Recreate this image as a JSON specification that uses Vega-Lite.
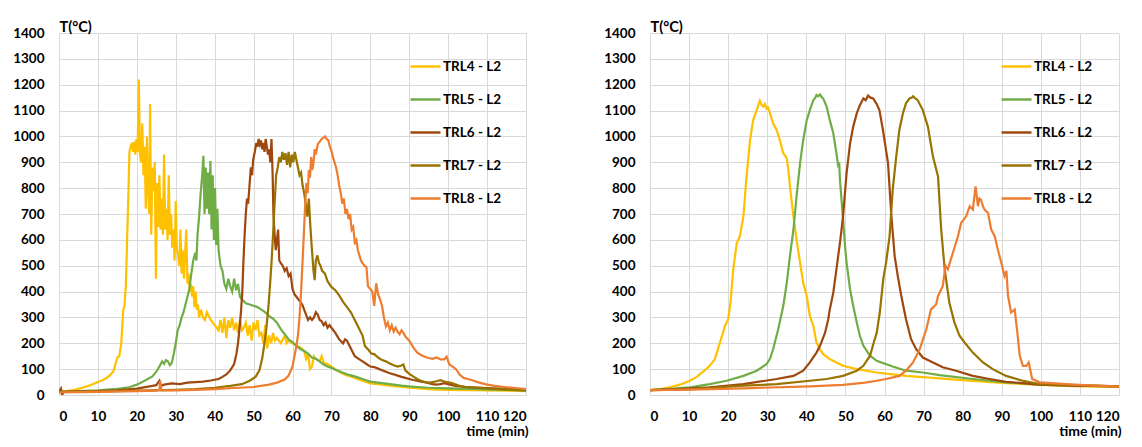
{
"$schema":"https://vega.github.io/schema/vega-lite/v6.json",
"background":"white",
"padding":{"left":12,"top":19,"right":5,"bottom":5},
"bounds":"flush",
"spacing":124,
"config":{
 "font":"Lato",
 "view":{"stroke":null},
 "axis":{"labelFont":"Lato","labelFontWeight":"bold","labelFontSize":13.5,"labelColor":"#000000","gridColor":"#D9D9D9","gridWidth":1,"ticks":false,"domain":false,"titleFont":"Lato","titleFontWeight":"bold","titleFontSize":14,"titleColor":"#000000"},
 "legend":{"orient":"none","legendX":350,"legendY":17,"symbolType":"stroke","symbolSize":900,"symbolStrokeWidth":2.5,"labelFont":"Lato","labelFontWeight":"bold","labelFontSize":13.5,"labelColor":"#000000","rowPadding":10,"labelOffset":1}
},
"resolve":{"scale":{"color":"independent"},"legend":{"color":"independent"}},
"datasets":{
"L":[
{"s":"TRL4 - L2","t":0,"T":12},{"s":"TRL4 - L2","t":2,"T":15},{"s":"TRL4 - L2","t":4,"T":20},{"s":"TRL4 - L2","t":6,"T":28},{"s":"TRL4 - L2","t":8,"T":38},{"s":"TRL4 - L2","t":10,"T":50},{"s":"TRL4 - L2","t":11,"T":56},{"s":"TRL4 - L2","t":12,"T":64},{"s":"TRL4 - L2","t":13,"T":75},{"s":"TRL4 - L2","t":14,"T":92},{"s":"TRL4 - L2","t":14.5,"T":120},{"s":"TRL4 - L2","t":15,"T":145},{"s":"TRL4 - L2","t":15.5,"T":150},{"s":"TRL4 - L2","t":16,"T":200},{"s":"TRL4 - L2","t":16.5,"T":330},{"s":"TRL4 - L2","t":16.8,"T":340},{"s":"TRL4 - L2","t":17.2,"T":430},{"s":"TRL4 - L2","t":17.5,"T":600},{"s":"TRL4 - L2","t":17.8,"T":760},{"s":"TRL4 - L2","t":18.1,"T":940},{"s":"TRL4 - L2","t":18.4,"T":960},{"s":"TRL4 - L2","t":18.7,"T":975},{"s":"TRL4 - L2","t":19,"T":940},{"s":"TRL4 - L2","t":19.3,"T":980},{"s":"TRL4 - L2","t":19.6,"T":930},{"s":"TRL4 - L2","t":19.9,"T":990},{"s":"TRL4 - L2","t":20.2,"T":940},{"s":"TRL4 - L2","t":20.5,"T":1220},{"s":"TRL4 - L2","t":20.8,"T":930},{"s":"TRL4 - L2","t":21.1,"T":900},{"s":"TRL4 - L2","t":21.4,"T":1050},{"s":"TRL4 - L2","t":21.7,"T":850},{"s":"TRL4 - L2","t":22,"T":960},{"s":"TRL4 - L2","t":22.3,"T":720},{"s":"TRL4 - L2","t":22.6,"T":1000},{"s":"TRL4 - L2","t":22.9,"T":780},{"s":"TRL4 - L2","t":23.2,"T":700},{"s":"TRL4 - L2","t":23.4,"T":1125},{"s":"TRL4 - L2","t":23.7,"T":620},{"s":"TRL4 - L2","t":24,"T":880},{"s":"TRL4 - L2","t":24.3,"T":790},{"s":"TRL4 - L2","t":24.6,"T":900},{"s":"TRL4 - L2","t":24.9,"T":450},{"s":"TRL4 - L2","t":25.2,"T":820},{"s":"TRL4 - L2","t":25.5,"T":650},{"s":"TRL4 - L2","t":25.8,"T":850},{"s":"TRL4 - L2","t":26.1,"T":640},{"s":"TRL4 - L2","t":26.4,"T":760},{"s":"TRL4 - L2","t":26.7,"T":620},{"s":"TRL4 - L2","t":27,"T":930},{"s":"TRL4 - L2","t":27.3,"T":640},{"s":"TRL4 - L2","t":27.6,"T":720},{"s":"TRL4 - L2","t":27.9,"T":600},{"s":"TRL4 - L2","t":28.2,"T":850},{"s":"TRL4 - L2","t":28.5,"T":620},{"s":"TRL4 - L2","t":28.8,"T":700},{"s":"TRL4 - L2","t":29.1,"T":570},{"s":"TRL4 - L2","t":29.4,"T":640},{"s":"TRL4 - L2","t":29.7,"T":520},{"s":"TRL4 - L2","t":30,"T":750},{"s":"TRL4 - L2","t":30.3,"T":560},{"s":"TRL4 - L2","t":30.6,"T":540},{"s":"TRL4 - L2","t":30.9,"T":500},{"s":"TRL4 - L2","t":31.2,"T":640},{"s":"TRL4 - L2","t":31.5,"T":470},{"s":"TRL4 - L2","t":31.8,"T":560},{"s":"TRL4 - L2","t":32.1,"T":450},{"s":"TRL4 - L2","t":32.7,"T":640},{"s":"TRL4 - L2","t":33,"T":430},{"s":"TRL4 - L2","t":33.3,"T":470},{"s":"TRL4 - L2","t":33.6,"T":400},{"s":"TRL4 - L2","t":33.9,"T":430},{"s":"TRL4 - L2","t":34.2,"T":380},{"s":"TRL4 - L2","t":34.5,"T":420},{"s":"TRL4 - L2","t":34.8,"T":340},{"s":"TRL4 - L2","t":35.1,"T":400},{"s":"TRL4 - L2","t":35.4,"T":330},{"s":"TRL4 - L2","t":35.7,"T":350},{"s":"TRL4 - L2","t":36,"T":300},{"s":"TRL4 - L2","t":36.5,"T":330},{"s":"TRL4 - L2","t":37,"T":300},{"s":"TRL4 - L2","t":37.5,"T":290},{"s":"TRL4 - L2","t":38,"T":320},{"s":"TRL4 - L2","t":39,"T":290},{"s":"TRL4 - L2","t":40,"T":270},{"s":"TRL4 - L2","t":41,"T":250},{"s":"TRL4 - L2","t":41.5,"T":290},{"s":"TRL4 - L2","t":42,"T":240},{"s":"TRL4 - L2","t":42.5,"T":300},{"s":"TRL4 - L2","t":43,"T":220},{"s":"TRL4 - L2","t":43.5,"T":290},{"s":"TRL4 - L2","t":44,"T":260},{"s":"TRL4 - L2","t":44.5,"T":300},{"s":"TRL4 - L2","t":45,"T":250},{"s":"TRL4 - L2","t":45.5,"T":280},{"s":"TRL4 - L2","t":46,"T":240},{"s":"TRL4 - L2","t":46.5,"T":290},{"s":"TRL4 - L2","t":47,"T":250},{"s":"TRL4 - L2","t":47.5,"T":260},{"s":"TRL4 - L2","t":48,"T":280},{"s":"TRL4 - L2","t":48.5,"T":230},{"s":"TRL4 - L2","t":49,"T":270},{"s":"TRL4 - L2","t":49.5,"T":210},{"s":"TRL4 - L2","t":50,"T":280},{"s":"TRL4 - L2","t":50.5,"T":250},{"s":"TRL4 - L2","t":51,"T":290},{"s":"TRL4 - L2","t":51.5,"T":230},{"s":"TRL4 - L2","t":52,"T":240},{"s":"TRL4 - L2","t":52.5,"T":200},{"s":"TRL4 - L2","t":53,"T":270},{"s":"TRL4 - L2","t":53.5,"T":180},{"s":"TRL4 - L2","t":54,"T":230},{"s":"TRL4 - L2","t":54.5,"T":200},{"s":"TRL4 - L2","t":55,"T":240},{"s":"TRL4 - L2","t":55.5,"T":210},{"s":"TRL4 - L2","t":56,"T":220},{"s":"TRL4 - L2","t":57,"T":200},{"s":"TRL4 - L2","t":58,"T":230},{"s":"TRL4 - L2","t":58.5,"T":200},{"s":"TRL4 - L2","t":59,"T":210},{"s":"TRL4 - L2","t":60,"T":200},{"s":"TRL4 - L2","t":61,"T":190},{"s":"TRL4 - L2","t":62,"T":185},{"s":"TRL4 - L2","t":63,"T":170},{"s":"TRL4 - L2","t":63.5,"T":140},{"s":"TRL4 - L2","t":64,"T":160},{"s":"TRL4 - L2","t":64.5,"T":100},{"s":"TRL4 - L2","t":65,"T":110},{"s":"TRL4 - L2","t":65.5,"T":150},{"s":"TRL4 - L2","t":66,"T":140},{"s":"TRL4 - L2","t":67,"T":130},{"s":"TRL4 - L2","t":67.5,"T":150},{"s":"TRL4 - L2","t":68,"T":125},{"s":"TRL4 - L2","t":69,"T":120},{"s":"TRL4 - L2","t":70,"T":110},{"s":"TRL4 - L2","t":71,"T":100},{"s":"TRL4 - L2","t":72,"T":90},{"s":"TRL4 - L2","t":73,"T":82},{"s":"TRL4 - L2","t":74,"T":76},{"s":"TRL4 - L2","t":75,"T":72},{"s":"TRL4 - L2","t":76,"T":66},{"s":"TRL4 - L2","t":78,"T":55},{"s":"TRL4 - L2","t":80,"T":45},{"s":"TRL4 - L2","t":82,"T":42},{"s":"TRL4 - L2","t":84,"T":38},{"s":"TRL4 - L2","t":86,"T":34},{"s":"TRL4 - L2","t":88,"T":32},{"s":"TRL4 - L2","t":90,"T":28},{"s":"TRL4 - L2","t":92,"T":26},{"s":"TRL4 - L2","t":94,"T":24},{"s":"TRL4 - L2","t":96,"T":22},{"s":"TRL4 - L2","t":98,"T":21},{"s":"TRL4 - L2","t":100,"T":20},{"s":"TRL4 - L2","t":105,"T":19},{"s":"TRL4 - L2","t":110,"T":18},{"s":"TRL4 - L2","t":115,"T":17},{"s":"TRL4 - L2","t":120,"T":15},
{"s":"TRL5 - L2","t":0,"T":12},{"s":"TRL5 - L2","t":5,"T":15},{"s":"TRL5 - L2","t":10,"T":18},{"s":"TRL5 - L2","t":15,"T":24},{"s":"TRL5 - L2","t":18,"T":30},{"s":"TRL5 - L2","t":20,"T":40},{"s":"TRL5 - L2","t":22,"T":55},{"s":"TRL5 - L2","t":24,"T":72},{"s":"TRL5 - L2","t":25,"T":90},{"s":"TRL5 - L2","t":25.8,"T":110},{"s":"TRL5 - L2","t":26.5,"T":130},{"s":"TRL5 - L2","t":27,"T":120},{"s":"TRL5 - L2","t":27.5,"T":135},{"s":"TRL5 - L2","t":28,"T":130},{"s":"TRL5 - L2","t":28.5,"T":115},{"s":"TRL5 - L2","t":29,"T":125},{"s":"TRL5 - L2","t":29.5,"T":160},{"s":"TRL5 - L2","t":30,"T":200},{"s":"TRL5 - L2","t":30.5,"T":250},{"s":"TRL5 - L2","t":31,"T":270},{"s":"TRL5 - L2","t":31.5,"T":300},{"s":"TRL5 - L2","t":32,"T":320},{"s":"TRL5 - L2","t":32.5,"T":350},{"s":"TRL5 - L2","t":33,"T":380},{"s":"TRL5 - L2","t":33.5,"T":410},{"s":"TRL5 - L2","t":34,"T":470},{"s":"TRL5 - L2","t":34.5,"T":520},{"s":"TRL5 - L2","t":35,"T":550},{"s":"TRL5 - L2","t":35.3,"T":520},{"s":"TRL5 - L2","t":35.6,"T":620},{"s":"TRL5 - L2","t":36,"T":690},{"s":"TRL5 - L2","t":36.4,"T":780},{"s":"TRL5 - L2","t":36.8,"T":850},{"s":"TRL5 - L2","t":37.1,"T":925},{"s":"TRL5 - L2","t":37.4,"T":700},{"s":"TRL5 - L2","t":37.7,"T":880},{"s":"TRL5 - L2","t":38,"T":720},{"s":"TRL5 - L2","t":38.3,"T":860},{"s":"TRL5 - L2","t":38.6,"T":700},{"s":"TRL5 - L2","t":38.9,"T":905},{"s":"TRL5 - L2","t":39.2,"T":640},{"s":"TRL5 - L2","t":39.5,"T":850},{"s":"TRL5 - L2","t":39.8,"T":600},{"s":"TRL5 - L2","t":40.1,"T":800},{"s":"TRL5 - L2","t":40.4,"T":580},{"s":"TRL5 - L2","t":40.7,"T":720},{"s":"TRL5 - L2","t":41,"T":560},{"s":"TRL5 - L2","t":41.5,"T":500},{"s":"TRL5 - L2","t":42,"T":480},{"s":"TRL5 - L2","t":42.5,"T":430},{"s":"TRL5 - L2","t":43,"T":410},{"s":"TRL5 - L2","t":43.5,"T":450},{"s":"TRL5 - L2","t":44,"T":420},{"s":"TRL5 - L2","t":44.5,"T":400},{"s":"TRL5 - L2","t":45,"T":450},{"s":"TRL5 - L2","t":45.5,"T":405},{"s":"TRL5 - L2","t":46,"T":430},{"s":"TRL5 - L2","t":46.5,"T":380},{"s":"TRL5 - L2","t":47,"T":370},{"s":"TRL5 - L2","t":48,"T":355},{"s":"TRL5 - L2","t":49,"T":350},{"s":"TRL5 - L2","t":50,"T":345},{"s":"TRL5 - L2","t":51,"T":340},{"s":"TRL5 - L2","t":52,"T":330},{"s":"TRL5 - L2","t":53,"T":320},{"s":"TRL5 - L2","t":54,"T":305},{"s":"TRL5 - L2","t":55,"T":295},{"s":"TRL5 - L2","t":56,"T":280},{"s":"TRL5 - L2","t":57,"T":255},{"s":"TRL5 - L2","t":58,"T":235},{"s":"TRL5 - L2","t":59,"T":215},{"s":"TRL5 - L2","t":60,"T":205},{"s":"TRL5 - L2","t":61,"T":190},{"s":"TRL5 - L2","t":62,"T":178},{"s":"TRL5 - L2","t":63,"T":170},{"s":"TRL5 - L2","t":64,"T":160},{"s":"TRL5 - L2","t":65,"T":145},{"s":"TRL5 - L2","t":66,"T":140},{"s":"TRL5 - L2","t":67,"T":130},{"s":"TRL5 - L2","t":68,"T":118},{"s":"TRL5 - L2","t":69,"T":110},{"s":"TRL5 - L2","t":70,"T":105},{"s":"TRL5 - L2","t":71,"T":98},{"s":"TRL5 - L2","t":72,"T":92},{"s":"TRL5 - L2","t":73,"T":86},{"s":"TRL5 - L2","t":74,"T":80},{"s":"TRL5 - L2","t":75,"T":76},{"s":"TRL5 - L2","t":76,"T":72},{"s":"TRL5 - L2","t":78,"T":62},{"s":"TRL5 - L2","t":80,"T":52},{"s":"TRL5 - L2","t":82,"T":48},{"s":"TRL5 - L2","t":84,"T":44},{"s":"TRL5 - L2","t":86,"T":40},{"s":"TRL5 - L2","t":88,"T":36},{"s":"TRL5 - L2","t":90,"T":33},{"s":"TRL5 - L2","t":92,"T":31},{"s":"TRL5 - L2","t":95,"T":28},{"s":"TRL5 - L2","t":100,"T":26},{"s":"TRL5 - L2","t":105,"T":24},{"s":"TRL5 - L2","t":110,"T":22},{"s":"TRL5 - L2","t":115,"T":20},{"s":"TRL5 - L2","t":120,"T":17},
{"s":"TRL6 - L2","t":0,"T":12},{"s":"TRL6 - L2","t":0.5,"T":25},{"s":"TRL6 - L2","t":0.8,"T":0},{"s":"TRL6 - L2","t":1.2,"T":12},{"s":"TRL6 - L2","t":5,"T":13},{"s":"TRL6 - L2","t":10,"T":15},{"s":"TRL6 - L2","t":15,"T":18},{"s":"TRL6 - L2","t":20,"T":25},{"s":"TRL6 - L2","t":24,"T":35},{"s":"TRL6 - L2","t":25,"T":38},{"s":"TRL6 - L2","t":25.8,"T":55},{"s":"TRL6 - L2","t":26.2,"T":35},{"s":"TRL6 - L2","t":27,"T":40},{"s":"TRL6 - L2","t":29,"T":45},{"s":"TRL6 - L2","t":31,"T":42},{"s":"TRL6 - L2","t":33,"T":48},{"s":"TRL6 - L2","t":35,"T":50},{"s":"TRL6 - L2","t":37,"T":52},{"s":"TRL6 - L2","t":39,"T":56},{"s":"TRL6 - L2","t":41,"T":62},{"s":"TRL6 - L2","t":42,"T":70},{"s":"TRL6 - L2","t":43,"T":80},{"s":"TRL6 - L2","t":44,"T":95},{"s":"TRL6 - L2","t":45,"T":120},{"s":"TRL6 - L2","t":45.6,"T":160},{"s":"TRL6 - L2","t":46,"T":200},{"s":"TRL6 - L2","t":46.4,"T":260},{"s":"TRL6 - L2","t":46.8,"T":330},{"s":"TRL6 - L2","t":47.1,"T":400},{"s":"TRL6 - L2","t":47.4,"T":520},{"s":"TRL6 - L2","t":47.7,"T":620},{"s":"TRL6 - L2","t":48,"T":700},{"s":"TRL6 - L2","t":48.3,"T":760},{"s":"TRL6 - L2","t":48.6,"T":740},{"s":"TRL6 - L2","t":49,"T":820},{"s":"TRL6 - L2","t":49.3,"T":880},{"s":"TRL6 - L2","t":49.6,"T":850},{"s":"TRL6 - L2","t":49.9,"T":910},{"s":"TRL6 - L2","t":50.3,"T":940},{"s":"TRL6 - L2","t":50.7,"T":975},{"s":"TRL6 - L2","t":51,"T":960},{"s":"TRL6 - L2","t":51.3,"T":990},{"s":"TRL6 - L2","t":51.6,"T":970},{"s":"TRL6 - L2","t":51.9,"T":985},{"s":"TRL6 - L2","t":52.2,"T":950},{"s":"TRL6 - L2","t":52.5,"T":975},{"s":"TRL6 - L2","t":52.8,"T":940},{"s":"TRL6 - L2","t":53.1,"T":990},{"s":"TRL6 - L2","t":53.4,"T":960},{"s":"TRL6 - L2","t":53.7,"T":930},{"s":"TRL6 - L2","t":54,"T":950},{"s":"TRL6 - L2","t":54.3,"T":900},{"s":"TRL6 - L2","t":54.6,"T":990},{"s":"TRL6 - L2","t":54.9,"T":850},{"s":"TRL6 - L2","t":55.1,"T":700},{"s":"TRL6 - L2","t":55.4,"T":620},{"s":"TRL6 - L2","t":55.7,"T":560},{"s":"TRL6 - L2","t":56,"T":600},{"s":"TRL6 - L2","t":56.3,"T":640},{"s":"TRL6 - L2","t":56.6,"T":520},{"s":"TRL6 - L2","t":57,"T":510},{"s":"TRL6 - L2","t":57.5,"T":500},{"s":"TRL6 - L2","t":58,"T":480},{"s":"TRL6 - L2","t":58.5,"T":490},{"s":"TRL6 - L2","t":59,"T":460},{"s":"TRL6 - L2","t":59.5,"T":470},{"s":"TRL6 - L2","t":60,"T":410},{"s":"TRL6 - L2","t":60.5,"T":390},{"s":"TRL6 - L2","t":61,"T":380},{"s":"TRL6 - L2","t":61.5,"T":370},{"s":"TRL6 - L2","t":62,"T":360},{"s":"TRL6 - L2","t":62.5,"T":350},{"s":"TRL6 - L2","t":63,"T":330},{"s":"TRL6 - L2","t":63.5,"T":310},{"s":"TRL6 - L2","t":64,"T":290},{"s":"TRL6 - L2","t":64.5,"T":300},{"s":"TRL6 - L2","t":65,"T":290},{"s":"TRL6 - L2","t":65.5,"T":300},{"s":"TRL6 - L2","t":66,"T":320},{"s":"TRL6 - L2","t":66.5,"T":310},{"s":"TRL6 - L2","t":67,"T":290},{"s":"TRL6 - L2","t":67.5,"T":285},{"s":"TRL6 - L2","t":68,"T":270},{"s":"TRL6 - L2","t":68.5,"T":280},{"s":"TRL6 - L2","t":69,"T":260},{"s":"TRL6 - L2","t":69.5,"T":270},{"s":"TRL6 - L2","t":70,"T":260},{"s":"TRL6 - L2","t":71,"T":240},{"s":"TRL6 - L2","t":72,"T":215},{"s":"TRL6 - L2","t":73,"T":200},{"s":"TRL6 - L2","t":73.5,"T":215},{"s":"TRL6 - L2","t":74,"T":210},{"s":"TRL6 - L2","t":75,"T":180},{"s":"TRL6 - L2","t":76,"T":150},{"s":"TRL6 - L2","t":77,"T":140},{"s":"TRL6 - L2","t":78,"T":130},{"s":"TRL6 - L2","t":79,"T":120},{"s":"TRL6 - L2","t":80,"T":110},{"s":"TRL6 - L2","t":81,"T":108},{"s":"TRL6 - L2","t":82,"T":102},{"s":"TRL6 - L2","t":83,"T":96},{"s":"TRL6 - L2","t":84,"T":90},{"s":"TRL6 - L2","t":85,"T":84},{"s":"TRL6 - L2","t":86,"T":80},{"s":"TRL6 - L2","t":87,"T":75},{"s":"TRL6 - L2","t":88,"T":70},{"s":"TRL6 - L2","t":89,"T":66},{"s":"TRL6 - L2","t":90,"T":62},{"s":"TRL6 - L2","t":91,"T":58},{"s":"TRL6 - L2","t":92,"T":55},{"s":"TRL6 - L2","t":93,"T":52},{"s":"TRL6 - L2","t":94,"T":50},{"s":"TRL6 - L2","t":95,"T":46},{"s":"TRL6 - L2","t":96,"T":42},{"s":"TRL6 - L2","t":97,"T":40},{"s":"TRL6 - L2","t":98,"T":42},{"s":"TRL6 - L2","t":99,"T":46},{"s":"TRL6 - L2","t":100,"T":42},{"s":"TRL6 - L2","t":101,"T":38},{"s":"TRL6 - L2","t":102,"T":35},{"s":"TRL6 - L2","t":104,"T":32},{"s":"TRL6 - L2","t":106,"T":30},{"s":"TRL6 - L2","t":110,"T":27},{"s":"TRL6 - L2","t":115,"T":24},{"s":"TRL6 - L2","t":120,"T":20},
{"s":"TRL7 - L2","t":0,"T":12},{"s":"TRL7 - L2","t":10,"T":14},{"s":"TRL7 - L2","t":20,"T":17},{"s":"TRL7 - L2","t":30,"T":20},{"s":"TRL7 - L2","t":35,"T":23},{"s":"TRL7 - L2","t":40,"T":28},{"s":"TRL7 - L2","t":44,"T":35},{"s":"TRL7 - L2","t":47,"T":42},{"s":"TRL7 - L2","t":49,"T":55},{"s":"TRL7 - L2","t":50.5,"T":70},{"s":"TRL7 - L2","t":51.5,"T":95},{"s":"TRL7 - L2","t":52.2,"T":140},{"s":"TRL7 - L2","t":52.8,"T":200},{"s":"TRL7 - L2","t":53.3,"T":260},{"s":"TRL7 - L2","t":53.8,"T":340},{"s":"TRL7 - L2","t":54.2,"T":420},{"s":"TRL7 - L2","t":54.6,"T":510},{"s":"TRL7 - L2","t":55,"T":620},{"s":"TRL7 - L2","t":55.4,"T":740},{"s":"TRL7 - L2","t":55.8,"T":850},{"s":"TRL7 - L2","t":56.2,"T":880},{"s":"TRL7 - L2","t":56.6,"T":920},{"s":"TRL7 - L2","t":57,"T":900},{"s":"TRL7 - L2","t":57.4,"T":940},{"s":"TRL7 - L2","t":57.8,"T":910},{"s":"TRL7 - L2","t":58.2,"T":935},{"s":"TRL7 - L2","t":58.6,"T":890},{"s":"TRL7 - L2","t":59,"T":940},{"s":"TRL7 - L2","t":59.4,"T":880},{"s":"TRL7 - L2","t":59.8,"T":930},{"s":"TRL7 - L2","t":60.2,"T":900},{"s":"TRL7 - L2","t":60.6,"T":940},{"s":"TRL7 - L2","t":61,"T":910},{"s":"TRL7 - L2","t":61.4,"T":880},{"s":"TRL7 - L2","t":61.8,"T":850},{"s":"TRL7 - L2","t":62.2,"T":860},{"s":"TRL7 - L2","t":62.6,"T":810},{"s":"TRL7 - L2","t":63,"T":780},{"s":"TRL7 - L2","t":63.4,"T":740},{"s":"TRL7 - L2","t":63.8,"T":690},{"s":"TRL7 - L2","t":64.2,"T":760},{"s":"TRL7 - L2","t":64.6,"T":650},{"s":"TRL7 - L2","t":65,"T":560},{"s":"TRL7 - L2","t":65.4,"T":480},{"s":"TRL7 - L2","t":65.7,"T":444},{"s":"TRL7 - L2","t":66,"T":520},{"s":"TRL7 - L2","t":66.4,"T":540},{"s":"TRL7 - L2","t":66.8,"T":510},{"s":"TRL7 - L2","t":67.2,"T":500},{"s":"TRL7 - L2","t":67.6,"T":480},{"s":"TRL7 - L2","t":68.3,"T":470},{"s":"TRL7 - L2","t":69,"T":440},{"s":"TRL7 - L2","t":70,"T":418},{"s":"TRL7 - L2","t":71,"T":405},{"s":"TRL7 - L2","t":72,"T":385},{"s":"TRL7 - L2","t":73,"T":360},{"s":"TRL7 - L2","t":74,"T":340},{"s":"TRL7 - L2","t":75,"T":320},{"s":"TRL7 - L2","t":76,"T":290},{"s":"TRL7 - L2","t":77,"T":260},{"s":"TRL7 - L2","t":78,"T":230},{"s":"TRL7 - L2","t":78.6,"T":190},{"s":"TRL7 - L2","t":79.5,"T":175},{"s":"TRL7 - L2","t":80.3,"T":160},{"s":"TRL7 - L2","t":81,"T":158},{"s":"TRL7 - L2","t":82,"T":145},{"s":"TRL7 - L2","t":83,"T":135},{"s":"TRL7 - L2","t":84,"T":130},{"s":"TRL7 - L2","t":85,"T":122},{"s":"TRL7 - L2","t":86,"T":115},{"s":"TRL7 - L2","t":87,"T":110},{"s":"TRL7 - L2","t":88,"T":114},{"s":"TRL7 - L2","t":88.5,"T":118},{"s":"TRL7 - L2","t":89,"T":95},{"s":"TRL7 - L2","t":90,"T":82},{"s":"TRL7 - L2","t":91,"T":72},{"s":"TRL7 - L2","t":92,"T":62},{"s":"TRL7 - L2","t":93,"T":55},{"s":"TRL7 - L2","t":94,"T":50},{"s":"TRL7 - L2","t":95,"T":48},{"s":"TRL7 - L2","t":96,"T":50},{"s":"TRL7 - L2","t":97,"T":53},{"s":"TRL7 - L2","t":98,"T":57},{"s":"TRL7 - L2","t":99,"T":52},{"s":"TRL7 - L2","t":100,"T":49},{"s":"TRL7 - L2","t":101,"T":46},{"s":"TRL7 - L2","t":102,"T":40},{"s":"TRL7 - L2","t":103,"T":35},{"s":"TRL7 - L2","t":105,"T":30},{"s":"TRL7 - L2","t":110,"T":26},{"s":"TRL7 - L2","t":115,"T":22},{"s":"TRL7 - L2","t":120,"T":18},
{"s":"TRL8 - L2","t":0,"T":10},{"s":"TRL8 - L2","t":10,"T":12},{"s":"TRL8 - L2","t":20,"T":15},{"s":"TRL8 - L2","t":25,"T":17},{"s":"TRL8 - L2","t":25.8,"T":20},{"s":"TRL8 - L2","t":26,"T":55},{"s":"TRL8 - L2","t":26.3,"T":18},{"s":"TRL8 - L2","t":30,"T":18},{"s":"TRL8 - L2","t":35,"T":20},{"s":"TRL8 - L2","t":40,"T":23},{"s":"TRL8 - L2","t":45,"T":27},{"s":"TRL8 - L2","t":50,"T":31},{"s":"TRL8 - L2","t":54,"T":40},{"s":"TRL8 - L2","t":56,"T":48},{"s":"TRL8 - L2","t":58,"T":60},{"s":"TRL8 - L2","t":59,"T":75},{"s":"TRL8 - L2","t":60,"T":110},{"s":"TRL8 - L2","t":60.5,"T":150},{"s":"TRL8 - L2","t":61,"T":190},{"s":"TRL8 - L2","t":61.4,"T":230},{"s":"TRL8 - L2","t":61.8,"T":300},{"s":"TRL8 - L2","t":62.2,"T":400},{"s":"TRL8 - L2","t":62.6,"T":520},{"s":"TRL8 - L2","t":63,"T":650},{"s":"TRL8 - L2","t":63.3,"T":750},{"s":"TRL8 - L2","t":63.6,"T":820},{"s":"TRL8 - L2","t":63.9,"T":780},{"s":"TRL8 - L2","t":64.2,"T":870},{"s":"TRL8 - L2","t":64.5,"T":840},{"s":"TRL8 - L2","t":64.8,"T":920},{"s":"TRL8 - L2","t":65.1,"T":870},{"s":"TRL8 - L2","t":65.4,"T":900},{"s":"TRL8 - L2","t":65.7,"T":950},{"s":"TRL8 - L2","t":66,"T":930},{"s":"TRL8 - L2","t":66.5,"T":970},{"s":"TRL8 - L2","t":67,"T":980},{"s":"TRL8 - L2","t":67.5,"T":990},{"s":"TRL8 - L2","t":68,"T":995},{"s":"TRL8 - L2","t":68.4,"T":1000},{"s":"TRL8 - L2","t":68.8,"T":990},{"s":"TRL8 - L2","t":69.2,"T":985},{"s":"TRL8 - L2","t":69.6,"T":960},{"s":"TRL8 - L2","t":70,"T":945},{"s":"TRL8 - L2","t":70.4,"T":920},{"s":"TRL8 - L2","t":70.8,"T":900},{"s":"TRL8 - L2","t":71.2,"T":880},{"s":"TRL8 - L2","t":71.6,"T":850},{"s":"TRL8 - L2","t":72,"T":810},{"s":"TRL8 - L2","t":72.4,"T":780},{"s":"TRL8 - L2","t":72.8,"T":740},{"s":"TRL8 - L2","t":73.2,"T":760},{"s":"TRL8 - L2","t":73.6,"T":700},{"s":"TRL8 - L2","t":74,"T":720},{"s":"TRL8 - L2","t":74.4,"T":680},{"s":"TRL8 - L2","t":74.8,"T":700},{"s":"TRL8 - L2","t":75.2,"T":640},{"s":"TRL8 - L2","t":75.6,"T":650},{"s":"TRL8 - L2","t":76,"T":590},{"s":"TRL8 - L2","t":76.4,"T":600},{"s":"TRL8 - L2","t":76.8,"T":560},{"s":"TRL8 - L2","t":77.2,"T":540},{"s":"TRL8 - L2","t":77.6,"T":520},{"s":"TRL8 - L2","t":78,"T":510},{"s":"TRL8 - L2","t":78.5,"T":500},{"s":"TRL8 - L2","t":79,"T":495},{"s":"TRL8 - L2","t":79.4,"T":420},{"s":"TRL8 - L2","t":80,"T":410},{"s":"TRL8 - L2","t":80.5,"T":400},{"s":"TRL8 - L2","t":81,"T":345},{"s":"TRL8 - L2","t":81.5,"T":432},{"s":"TRL8 - L2","t":82,"T":390},{"s":"TRL8 - L2","t":82.5,"T":370},{"s":"TRL8 - L2","t":83,"T":345},{"s":"TRL8 - L2","t":83.5,"T":300},{"s":"TRL8 - L2","t":84,"T":265},{"s":"TRL8 - L2","t":84.5,"T":280},{"s":"TRL8 - L2","t":85,"T":250},{"s":"TRL8 - L2","t":85.5,"T":270},{"s":"TRL8 - L2","t":86,"T":245},{"s":"TRL8 - L2","t":86.5,"T":260},{"s":"TRL8 - L2","t":87,"T":245},{"s":"TRL8 - L2","t":87.5,"T":235},{"s":"TRL8 - L2","t":88,"T":250},{"s":"TRL8 - L2","t":88.5,"T":240},{"s":"TRL8 - L2","t":89,"T":226},{"s":"TRL8 - L2","t":90,"T":210},{"s":"TRL8 - L2","t":91,"T":185},{"s":"TRL8 - L2","t":92,"T":165},{"s":"TRL8 - L2","t":93,"T":155},{"s":"TRL8 - L2","t":94,"T":148},{"s":"TRL8 - L2","t":95,"T":143},{"s":"TRL8 - L2","t":96,"T":140},{"s":"TRL8 - L2","t":97,"T":145},{"s":"TRL8 - L2","t":98,"T":138},{"s":"TRL8 - L2","t":99,"T":138},{"s":"TRL8 - L2","t":99.6,"T":148},{"s":"TRL8 - L2","t":100.3,"T":118},{"s":"TRL8 - L2","t":101,"T":112},{"s":"TRL8 - L2","t":102,"T":100},{"s":"TRL8 - L2","t":103,"T":78},{"s":"TRL8 - L2","t":104,"T":66},{"s":"TRL8 - L2","t":105,"T":62},{"s":"TRL8 - L2","t":106,"T":58},{"s":"TRL8 - L2","t":108,"T":48},{"s":"TRL8 - L2","t":110,"T":40},{"s":"TRL8 - L2","t":112,"T":35},{"s":"TRL8 - L2","t":115,"T":30},{"s":"TRL8 - L2","t":118,"T":26},{"s":"TRL8 - L2","t":120,"T":23}
],
"R":[
{"s":"TRL4 - L2","t":0,"T":19},{"s":"TRL4 - L2","t":3,"T":24},{"s":"TRL4 - L2","t":5,"T":30},{"s":"TRL4 - L2","t":7.7,"T":40},{"s":"TRL4 - L2","t":10.2,"T":55},{"s":"TRL4 - L2","t":12,"T":70},{"s":"TRL4 - L2","t":12.8,"T":81},{"s":"TRL4 - L2","t":14,"T":95},{"s":"TRL4 - L2","t":15.3,"T":113},{"s":"TRL4 - L2","t":16.6,"T":139},{"s":"TRL4 - L2","t":17.9,"T":203},{"s":"TRL4 - L2","t":19.2,"T":267},{"s":"TRL4 - L2","t":20,"T":293},{"s":"TRL4 - L2","t":20.6,"T":357},{"s":"TRL4 - L2","t":21.3,"T":486},{"s":"TRL4 - L2","t":22.2,"T":588},{"s":"TRL4 - L2","t":23,"T":614},{"s":"TRL4 - L2","t":23.9,"T":691},{"s":"TRL4 - L2","t":24.7,"T":845},{"s":"TRL4 - L2","t":25.6,"T":986},{"s":"TRL4 - L2","t":26.4,"T":1063},{"s":"TRL4 - L2","t":27.3,"T":1102},{"s":"TRL4 - L2","t":28.1,"T":1138},{"s":"TRL4 - L2","t":28.6,"T":1120},{"s":"TRL4 - L2","t":29,"T":1115},{"s":"TRL4 - L2","t":29.4,"T":1125},{"s":"TRL4 - L2","t":29.8,"T":1108},{"s":"TRL4 - L2","t":30.2,"T":1112},{"s":"TRL4 - L2","t":30.7,"T":1089},{"s":"TRL4 - L2","t":31.5,"T":1051},{"s":"TRL4 - L2","t":32.4,"T":1025},{"s":"TRL4 - L2","t":33.2,"T":986},{"s":"TRL4 - L2","t":34.1,"T":935},{"s":"TRL4 - L2","t":35,"T":916},{"s":"TRL4 - L2","t":35.4,"T":871},{"s":"TRL4 - L2","t":35.8,"T":807},{"s":"TRL4 - L2","t":36.7,"T":691},{"s":"TRL4 - L2","t":37.5,"T":601},{"s":"TRL4 - L2","t":38.4,"T":511},{"s":"TRL4 - L2","t":39.2,"T":434},{"s":"TRL4 - L2","t":40.1,"T":383},{"s":"TRL4 - L2","t":40.9,"T":306},{"s":"TRL4 - L2","t":41.8,"T":267},{"s":"TRL4 - L2","t":42.6,"T":203},{"s":"TRL4 - L2","t":43.5,"T":177},{"s":"TRL4 - L2","t":44.3,"T":158},{"s":"TRL4 - L2","t":46,"T":139},{"s":"TRL4 - L2","t":47.7,"T":126},{"s":"TRL4 - L2","t":49.4,"T":113},{"s":"TRL4 - L2","t":52.9,"T":100},{"s":"TRL4 - L2","t":58,"T":87},{"s":"TRL4 - L2","t":62,"T":80},{"s":"TRL4 - L2","t":65.5,"T":74},{"s":"TRL4 - L2","t":74,"T":64},{"s":"TRL4 - L2","t":82.6,"T":55},{"s":"TRL4 - L2","t":91.1,"T":46},{"s":"TRL4 - L2","t":99.7,"T":39},{"s":"TRL4 - L2","t":108.3,"T":34},{"s":"TRL4 - L2","t":120,"T":31},
{"s":"TRL5 - L2","t":0,"T":19},{"s":"TRL5 - L2","t":5,"T":24},{"s":"TRL5 - L2","t":10.2,"T":30},{"s":"TRL5 - L2","t":15.3,"T":42},{"s":"TRL5 - L2","t":19.6,"T":55},{"s":"TRL5 - L2","t":23.9,"T":74},{"s":"TRL5 - L2","t":27.3,"T":94},{"s":"TRL5 - L2","t":29.8,"T":119},{"s":"TRL5 - L2","t":30.7,"T":140},{"s":"TRL5 - L2","t":31.5,"T":177},{"s":"TRL5 - L2","t":32.8,"T":254},{"s":"TRL5 - L2","t":34.1,"T":344},{"s":"TRL5 - L2","t":35,"T":434},{"s":"TRL5 - L2","t":35.8,"T":537},{"s":"TRL5 - L2","t":36.7,"T":640},{"s":"TRL5 - L2","t":37.5,"T":768},{"s":"TRL5 - L2","t":38.4,"T":897},{"s":"TRL5 - L2","t":39.2,"T":986},{"s":"TRL5 - L2","t":40.1,"T":1063},{"s":"TRL5 - L2","t":40.9,"T":1102},{"s":"TRL5 - L2","t":41.8,"T":1141},{"s":"TRL5 - L2","t":42.3,"T":1150},{"s":"TRL5 - L2","t":42.6,"T":1160},{"s":"TRL5 - L2","t":43,"T":1155},{"s":"TRL5 - L2","t":43.5,"T":1162},{"s":"TRL5 - L2","t":44,"T":1150},{"s":"TRL5 - L2","t":44.3,"T":1147},{"s":"TRL5 - L2","t":45.2,"T":1115},{"s":"TRL5 - L2","t":46,"T":1063},{"s":"TRL5 - L2","t":46.9,"T":1012},{"s":"TRL5 - L2","t":47.7,"T":935},{"s":"TRL5 - L2","t":48.2,"T":880},{"s":"TRL5 - L2","t":48.4,"T":900},{"s":"TRL5 - L2","t":48.6,"T":832},{"s":"TRL5 - L2","t":49.4,"T":680},{"s":"TRL5 - L2","t":49.9,"T":575},{"s":"TRL5 - L2","t":50.3,"T":511},{"s":"TRL5 - L2","t":51.2,"T":408},{"s":"TRL5 - L2","t":52,"T":344},{"s":"TRL5 - L2","t":52.9,"T":280},{"s":"TRL5 - L2","t":53.7,"T":229},{"s":"TRL5 - L2","t":54.6,"T":190},{"s":"TRL5 - L2","t":56.3,"T":152},{"s":"TRL5 - L2","t":58,"T":132},{"s":"TRL5 - L2","t":59.6,"T":124},{"s":"TRL5 - L2","t":62.1,"T":110},{"s":"TRL5 - L2","t":65.5,"T":94},{"s":"TRL5 - L2","t":69.8,"T":87},{"s":"TRL5 - L2","t":74.1,"T":77},{"s":"TRL5 - L2","t":82.6,"T":62},{"s":"TRL5 - L2","t":91.1,"T":49},{"s":"TRL5 - L2","t":99.7,"T":40},{"s":"TRL5 - L2","t":108.3,"T":36},{"s":"TRL5 - L2","t":120,"T":33},
{"s":"TRL6 - L2","t":0,"T":19},{"s":"TRL6 - L2","t":8,"T":24},{"s":"TRL6 - L2","t":15.3,"T":30},{"s":"TRL6 - L2","t":23.9,"T":42},{"s":"TRL6 - L2","t":32.4,"T":62},{"s":"TRL6 - L2","t":36.7,"T":74},{"s":"TRL6 - L2","t":39.2,"T":94},{"s":"TRL6 - L2","t":40.9,"T":126},{"s":"TRL6 - L2","t":42.6,"T":164},{"s":"TRL6 - L2","t":43.5,"T":190},{"s":"TRL6 - L2","t":44.8,"T":241},{"s":"TRL6 - L2","t":45.6,"T":293},{"s":"TRL6 - L2","t":46,"T":331},{"s":"TRL6 - L2","t":46.9,"T":396},{"s":"TRL6 - L2","t":47.7,"T":486},{"s":"TRL6 - L2","t":48.6,"T":588},{"s":"TRL6 - L2","t":49.4,"T":691},{"s":"TRL6 - L2","t":50.3,"T":858},{"s":"TRL6 - L2","t":51.2,"T":974},{"s":"TRL6 - L2","t":52,"T":1038},{"s":"TRL6 - L2","t":52.9,"T":1089},{"s":"TRL6 - L2","t":53.7,"T":1121},{"s":"TRL6 - L2","t":54.6,"T":1147},{"s":"TRL6 - L2","t":55.2,"T":1140},{"s":"TRL6 - L2","t":55.8,"T":1158},{"s":"TRL6 - L2","t":56.4,"T":1150},{"s":"TRL6 - L2","t":57.1,"T":1147},{"s":"TRL6 - L2","t":58,"T":1125},{"s":"TRL6 - L2","t":58.7,"T":1102},{"s":"TRL6 - L2","t":59.6,"T":1025},{"s":"TRL6 - L2","t":60.9,"T":897},{"s":"TRL6 - L2","t":61.7,"T":704},{"s":"TRL6 - L2","t":62.6,"T":537},{"s":"TRL6 - L2","t":63.4,"T":460},{"s":"TRL6 - L2","t":64.3,"T":383},{"s":"TRL6 - L2","t":65.5,"T":293},{"s":"TRL6 - L2","t":66.8,"T":216},{"s":"TRL6 - L2","t":68.1,"T":177},{"s":"TRL6 - L2","t":69.8,"T":145},{"s":"TRL6 - L2","t":72.4,"T":126},{"s":"TRL6 - L2","t":74.9,"T":107},{"s":"TRL6 - L2","t":78.3,"T":94},{"s":"TRL6 - L2","t":82.6,"T":74},{"s":"TRL6 - L2","t":86.9,"T":62},{"s":"TRL6 - L2","t":91.1,"T":51},{"s":"TRL6 - L2","t":95.4,"T":46},{"s":"TRL6 - L2","t":99.7,"T":40},{"s":"TRL6 - L2","t":108.3,"T":36},{"s":"TRL6 - L2","t":120,"T":33},
{"s":"TRL7 - L2","t":0,"T":19},{"s":"TRL7 - L2","t":10,"T":22},{"s":"TRL7 - L2","t":23.9,"T":36},{"s":"TRL7 - L2","t":32.4,"T":42},{"s":"TRL7 - L2","t":40.9,"T":55},{"s":"TRL7 - L2","t":45.2,"T":62},{"s":"TRL7 - L2","t":49.4,"T":74},{"s":"TRL7 - L2","t":52.9,"T":94},{"s":"TRL7 - L2","t":54.6,"T":113},{"s":"TRL7 - L2","t":56.3,"T":152},{"s":"TRL7 - L2","t":57.2,"T":200},{"s":"TRL7 - L2","t":58,"T":240},{"s":"TRL7 - L2","t":58.8,"T":320},{"s":"TRL7 - L2","t":59.7,"T":450},{"s":"TRL7 - L2","t":60.4,"T":511},{"s":"TRL7 - L2","t":61.3,"T":614},{"s":"TRL7 - L2","t":62.1,"T":794},{"s":"TRL7 - L2","t":63,"T":922},{"s":"TRL7 - L2","t":63.8,"T":1025},{"s":"TRL7 - L2","t":64.7,"T":1089},{"s":"TRL7 - L2","t":65.5,"T":1128},{"s":"TRL7 - L2","t":66.4,"T":1147},{"s":"TRL7 - L2","t":67,"T":1150},{"s":"TRL7 - L2","t":67.3,"T":1155},{"s":"TRL7 - L2","t":67.8,"T":1148},{"s":"TRL7 - L2","t":68.5,"T":1140},{"s":"TRL7 - L2","t":69.8,"T":1102},{"s":"TRL7 - L2","t":71.1,"T":1038},{"s":"TRL7 - L2","t":72.4,"T":922},{"s":"TRL7 - L2","t":73.7,"T":845},{"s":"TRL7 - L2","t":74.5,"T":640},{"s":"TRL7 - L2","t":75.4,"T":486},{"s":"TRL7 - L2","t":76.6,"T":357},{"s":"TRL7 - L2","t":77.9,"T":280},{"s":"TRL7 - L2","t":79.2,"T":229},{"s":"TRL7 - L2","t":80.5,"T":203},{"s":"TRL7 - L2","t":82.6,"T":164},{"s":"TRL7 - L2","t":85.2,"T":126},{"s":"TRL7 - L2","t":87.7,"T":100},{"s":"TRL7 - L2","t":91.1,"T":74},{"s":"TRL7 - L2","t":95.4,"T":55},{"s":"TRL7 - L2","t":99.7,"T":42},{"s":"TRL7 - L2","t":108.3,"T":39},{"s":"TRL7 - L2","t":120,"T":33},
{"s":"TRL8 - L2","t":0,"T":19},{"s":"TRL8 - L2","t":10,"T":21},{"s":"TRL8 - L2","t":23.9,"T":26},{"s":"TRL8 - L2","t":40.9,"T":33},{"s":"TRL8 - L2","t":49.4,"T":39},{"s":"TRL8 - L2","t":55,"T":48},{"s":"TRL8 - L2","t":58,"T":55},{"s":"TRL8 - L2","t":60.4,"T":62},{"s":"TRL8 - L2","t":63.8,"T":74},{"s":"TRL8 - L2","t":65.5,"T":94},{"s":"TRL8 - L2","t":67.3,"T":126},{"s":"TRL8 - L2","t":69,"T":177},{"s":"TRL8 - L2","t":70.7,"T":254},{"s":"TRL8 - L2","t":71.9,"T":331},{"s":"TRL8 - L2","t":73.2,"T":350},{"s":"TRL8 - L2","t":73.7,"T":383},{"s":"TRL8 - L2","t":74.9,"T":421},{"s":"TRL8 - L2","t":75.6,"T":500},{"s":"TRL8 - L2","t":76.2,"T":486},{"s":"TRL8 - L2","t":77.5,"T":550},{"s":"TRL8 - L2","t":78.8,"T":614},{"s":"TRL8 - L2","t":79.6,"T":665},{"s":"TRL8 - L2","t":80.9,"T":691},{"s":"TRL8 - L2","t":81.8,"T":730},{"s":"TRL8 - L2","t":82.6,"T":717},{"s":"TRL8 - L2","t":83.3,"T":807},{"s":"TRL8 - L2","t":83.9,"T":730},{"s":"TRL8 - L2","t":84.3,"T":760},{"s":"TRL8 - L2","t":84.7,"T":755},{"s":"TRL8 - L2","t":85.2,"T":730},{"s":"TRL8 - L2","t":85.6,"T":717},{"s":"TRL8 - L2","t":86.5,"T":704},{"s":"TRL8 - L2","t":87.3,"T":640},{"s":"TRL8 - L2","t":88.2,"T":614},{"s":"TRL8 - L2","t":89,"T":563},{"s":"TRL8 - L2","t":89.9,"T":511},{"s":"TRL8 - L2","t":90.7,"T":460},{"s":"TRL8 - L2","t":91.2,"T":480},{"s":"TRL8 - L2","t":91.6,"T":383},{"s":"TRL8 - L2","t":92.4,"T":319},{"s":"TRL8 - L2","t":93.3,"T":331},{"s":"TRL8 - L2","t":93.9,"T":254},{"s":"TRL8 - L2","t":94.6,"T":152},{"s":"TRL8 - L2","t":95.4,"T":113},{"s":"TRL8 - L2","t":96.3,"T":113},{"s":"TRL8 - L2","t":96.9,"T":126},{"s":"TRL8 - L2","t":97.8,"T":62},{"s":"TRL8 - L2","t":99.7,"T":49},{"s":"TRL8 - L2","t":108.3,"T":40},{"s":"TRL8 - L2","t":120,"T":32}
]
},
"hconcat":[
{"width":467,"height":362,"data":{"name":"L"},
 "mark":{"type":"line","strokeWidth":2.2,"clip":true},
 "encoding":{
  "x":{"field":"t","type":"quantitative","scale":{"domain":[0,120],"nice":false},"axis":{"values":[0,10,20,30,40,50,60,70,80,90,100,110,120],"format":"d","grid":true,"labelPadding":14,"title":"time (min)","titleAlign":"right","titleAnchor":"end","titleX":469,"titleY":40,"titleBaseline":"alphabetic"}},
  "y":{"field":"T","type":"quantitative","scale":{"domain":[0,1400],"nice":false},"axis":{"values":[0,100,200,300,400,500,600,700,800,900,1000,1100,1200,1300,1400],"format":"d","grid":true,"labelPadding":15,"title":"T(°C)","titleAngle":0,"titleAlign":"left","titleAnchor":"start","titleX":0,"titleY":-2,"titleBaseline":"alphabetic","titleFontSize":14.5}},
  "color":{"field":"s","type":"nominal","title":null,"scale":{"domain":["TRL4 - L2","TRL5 - L2","TRL6 - L2","TRL7 - L2","TRL8 - L2"],"range":["#FFC000","#70AD47","#9E480E","#997300","#ED7D31"]}}
 }},
{"width":469,"height":362,"data":{"name":"R"},
 "mark":{"type":"line","strokeWidth":2.2,"clip":true},
 "encoding":{
  "x":{"field":"t","type":"quantitative","scale":{"domain":[0,120],"nice":false},"axis":{"values":[0,10,20,30,40,50,60,70,80,90,100,110,120],"format":"d","grid":true,"labelPadding":14,"title":"time (min)","titleAlign":"right","titleAnchor":"end","titleX":471,"titleY":40,"titleBaseline":"alphabetic"}},
  "y":{"field":"T","type":"quantitative","scale":{"domain":[0,1400],"nice":false},"axis":{"values":[0,100,200,300,400,500,600,700,800,900,1000,1100,1200,1300,1400],"format":"d","grid":true,"labelPadding":15,"title":"T(°C)","titleAngle":0,"titleAlign":"left","titleAnchor":"start","titleX":0,"titleY":-2,"titleBaseline":"alphabetic","titleFontSize":14.5}},
  "color":{"field":"s","type":"nominal","title":null,"scale":{"domain":["TRL4 - L2","TRL5 - L2","TRL6 - L2","TRL7 - L2","TRL8 - L2"],"range":["#FFC000","#70AD47","#9E480E","#997300","#ED7D31"]}}
 }}
]
}
